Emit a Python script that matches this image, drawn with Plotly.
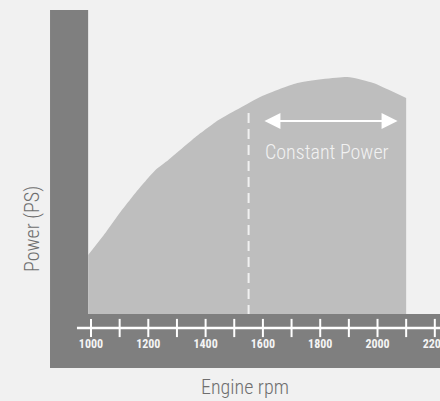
import plotly.graph_objects as go

# Data
rpm = [990, 1050, 1095, 1155, 1225, 1270, 1365, 1445, 1520, 1590, 1720, 1895, 1985, 2100]
power = [59, 81, 99, 121, 144, 154, 177, 194, 206, 217, 231, 237, 231, 216]
tick_rpm = list(range(1000, 2201, 100))
label_rpm = list(range(1000, 2201, 200))
label_text = [str(v) for v in label_rpm]
base_rpm = 1550
base_power = 201
cp_start, cp_end = 1600, 2070
cp_level = 193

FONT = "Roboto Condensed, Roboto, sans-serif"
DARK = "#7f7f7f"
AREA = "#bebebe"
BG = "#f1f1f1"

fig = go.Figure()

# power area
fig.add_trace(go.Scatter(x=rpm, y=power, mode="lines",
                         line=dict(color=AREA, width=0, shape="spline", smoothing=0.5),
                         fill="tozeroy", fillcolor=AREA, hoverinfo="skip"))

# dashed base-speed line
fig.add_trace(go.Scatter(x=[base_rpm, base_rpm], y=[base_power, 0], mode="lines",
                         line=dict(color="#f1f1f1", width=2, dash="10px,6px"), hoverinfo="skip"))

# axis line
fig.add_trace(go.Scatter(x=[951, 2230], y=[-14, -14], mode="lines",
                         line=dict(color="white", width=2.5), hoverinfo="skip"))
# ticks
fig.add_trace(go.Scatter(x=tick_rpm, y=[-14] * len(tick_rpm), mode="markers",
                         marker=dict(symbol="line-ns", size=13, line=dict(color="white", width=2)),
                         hoverinfo="skip", cliponaxis=False))
# tick labels
fig.add_trace(go.Scatter(x=label_rpm, y=[-31] * len(label_rpm), mode="text", text=label_text,
                         textfont=dict(family=FONT, size=12, color="#f4f4f4", weight="bold"),
                         hoverinfo="skip", cliponaxis=True))

# dark frame bars
fig.add_shape(type="rect", xref="x", yref="y", x0=857, x1=990, y0=-54, y1=304,
              fillcolor=DARK, line_width=0, layer="below")
fig.add_shape(type="rect", xref="x", yref="y", x0=857, x1=2300, y0=-54, y1=0,
              fillcolor=DARK, line_width=0, layer="below")

# constant power arrow
fig.add_annotation(x=cp_end, y=cp_level, ax=cp_start, ay=cp_level, axref="x", ayref="y", xref="x", yref="y",
                   text="", showarrow=True, arrowside="end+start", arrowhead=2, arrowsize=1.6,
                   arrowwidth=2, arrowcolor="white", standoff=0, startstandoff=0)
fig.add_annotation(x=1824, y=162, xref="x", yref="y", text="Constant Power", showarrow=False,
                   font=dict(family=FONT, size=20, color="#f2f2f2", weight=300))

# axis titles
fig.add_annotation(x=1000 + (245 - 91) * 200 / 57.3, y=314 - 387, xref="x", yref="y", text="Engine rpm",
                   showarrow=False, font=dict(family=FONT, size=20, color="#6e6e6e", weight=300))
fig.add_annotation(x=1000 + (32 - 91) * 200 / 57.3, y=314 - 229, xref="x", yref="y", text="Power (PS)",
                   showarrow=False, textangle=-90, font=dict(family=FONT, size=20, color="#6e6e6e", weight=300))

fig.update_layout(
    width=440, height=401, autosize=False,
    margin=dict(l=0, r=0, t=0, b=0),
    paper_bgcolor=BG, plot_bgcolor=BG,
    showlegend=False,
    xaxis=dict(range=[682.4, 2218.1], visible=False, fixedrange=True),
    yaxis=dict(range=[-87, 314], visible=False, fixedrange=True),
)

fig.write_html("out.html", config={"displayModeBar": False},
               post_script="document.body.style.margin='0'")
